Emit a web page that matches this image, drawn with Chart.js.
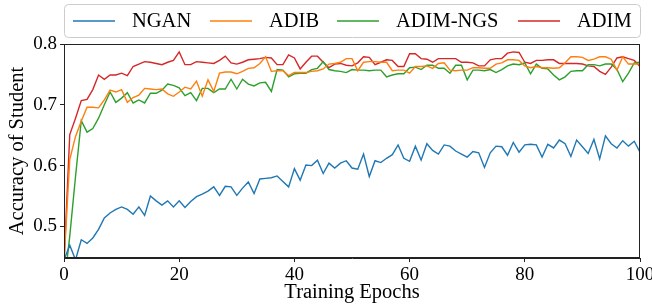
<!DOCTYPE html>
<html>
<head>
<meta charset="utf-8">
<script src="https://cdn.jsdelivr.net/npm/chart.js@4/dist/chart.umd.min.js"></script>
<style>
  html, body { margin: 0; padding: 0; background: #fff; }
  #wrap { width: 652px; height: 305px; position: relative; }
</style>
</head>
<body>
<div id="wrap"><canvas id="plot" width="652" height="305"></canvas></div>
<script>
// data

const epochs = [0,1,2,3,4,5,6,7,8,9,10,11,12,13,14,15,16,17,18,19,20,21,22,23,24,25,26,27,28,29,30,
  31,32,33,34,35,36,37,38,39,40,41,42,43,44,45,46,47,48,49,50,51,52,53,54,55,56,57,58,59,60,
  61,62,63,64,65,66,67,68,69,70,71,72,73,74,75,76,77,78,79,80,81,82,83,84,85,86,87,88,89,90,
  91,92,93,94,95,96,97,98,99,100]

const ngan = [0.445,0.469,0.445,0.478,0.472,0.481,0.495,0.514,0.522,0.528,
  0.532,0.528,0.520,0.532,0.518,0.550,0.542,0.535,0.542,0.532,
  0.542,0.531,0.541,0.549,0.553,0.558,0.565,0.551,0.566,0.565,
  0.551,0.563,0.573,0.554,0.578,0.579,0.580,0.583,0.574,0.565,
  0.595,0.576,0.601,0.600,0.609,0.587,0.604,0.596,0.604,0.608,
  0.596,0.594,0.619,0.582,0.608,0.605,0.612,0.618,0.634,0.612,
  0.607,0.632,0.609,0.636,0.625,0.619,0.634,0.632,0.624,0.619,
  0.614,0.623,0.621,0.597,0.621,0.632,0.631,0.617,0.638,0.622,
  0.634,0.635,0.634,0.614,0.635,0.629,0.642,0.636,0.615,0.642,
  0.631,0.620,0.643,0.611,0.649,0.636,0.629,0.641,0.632,0.640,0.622]

const adib = [0.44,0.610,0.648,0.673,0.696,0.696,0.695,0.708,0.724,0.721,
  0.725,0.704,0.712,0.716,0.727,0.726,0.725,0.726,0.718,0.714,
  0.721,0.729,0.726,0.739,0.714,0.741,0.722,0.752,0.754,0.754,
  0.751,0.755,0.760,0.761,0.768,0.779,0.755,0.756,0.756,0.748,
  0.753,0.753,0.753,0.755,0.756,0.759,0.767,0.768,0.770,0.776,
  0.776,0.756,0.770,0.771,0.771,0.770,0.770,0.756,0.757,0.757,
  0.752,0.763,0.763,0.764,0.760,0.768,0.769,0.757,0.756,0.757,
  0.757,0.761,0.761,0.760,0.760,0.767,0.769,0.774,0.774,0.773,
  0.764,0.761,0.763,0.761,0.761,0.760,0.761,0.769,0.779,0.779,
  0.778,0.773,0.775,0.779,0.779,0.775,0.757,0.779,0.767,0.767,0.767]

const adimNgs = [0.40,0.484,0.582,0.674,0.655,0.661,0.678,0.700,0.721,0.704,
  0.711,0.720,0.703,0.708,0.703,0.719,0.719,0.724,0.734,0.732,
  0.728,0.715,0.720,0.707,0.727,0.727,0.720,0.726,0.726,0.742,
  0.726,0.742,0.734,0.731,0.736,0.737,0.722,0.758,0.757,0.746,
  0.751,0.752,0.752,0.758,0.760,0.771,0.758,0.756,0.755,0.753,
  0.758,0.757,0.757,0.756,0.757,0.757,0.746,0.749,0.751,0.751,
  0.761,0.762,0.758,0.765,0.765,0.760,0.760,0.752,0.765,0.765,
  0.741,0.757,0.757,0.756,0.758,0.753,0.758,0.764,0.767,0.766,
  0.769,0.751,0.767,0.760,0.759,0.749,0.741,0.746,0.755,0.756,
  0.756,0.766,0.766,0.764,0.767,0.767,0.758,0.738,0.752,0.769,0.770]

const adim = [0.44,0.651,0.678,0.707,0.709,0.725,0.749,0.742,0.749,0.749,
  0.752,0.748,0.763,0.767,0.771,0.770,0.768,0.766,0.770,0.773,
  0.787,0.766,0.766,0.771,0.770,0.769,0.768,0.773,0.780,0.769,
  0.767,0.770,0.774,0.775,0.776,0.778,0.777,0.766,0.766,0.782,
  0.777,0.759,0.770,0.780,0.780,0.770,0.761,0.767,0.768,0.765,
  0.764,0.769,0.779,0.778,0.766,0.770,0.774,0.773,0.763,0.763,
  0.784,0.784,0.776,0.775,0.770,0.776,0.776,0.776,0.776,0.770,
  0.770,0.769,0.764,0.764,0.774,0.776,0.776,0.785,0.787,0.786,
  0.770,0.768,0.773,0.773,0.774,0.774,0.768,0.768,0.768,0.768,
  0.767,0.764,0.763,0.755,0.750,0.762,0.777,0.779,0.776,0.773,0.763]

const seriesNames = ['NGAN', 'ADIB', 'ADIM-NGS', 'ADIM']
const seriesColors = ['#1f77b4', '#ff7f0e', '#2ca02c', '#d62728']
const yTicks = [0.5, 0.6, 0.7, 0.8]

const serif = "'Liberation Serif', 'Times New Roman', serif"

// frame round the plot + legend box on top (matplotlib look)
const framePlugin = {
  id: 'frame',
  afterDraw(chart) {
    const ctx = chart.ctx
    const a = chart.chartArea
    ctx.save()
    ctx.strokeStyle = '#222'
    ctx.lineWidth = 1
    ctx.strokeRect(a.left + 0.5, a.top + 0.5, a.right - a.left - 1, a.bottom - a.top - 1)
    ctx.restore()

    // legend
    ctx.save()
    ctx.beginPath()
    ctx.roundRect(64.5, 4.5, 576, 33, 4)
    ctx.fillStyle = 'rgba(255,255,255,0.9)'
    ctx.fill()
    ctx.strokeStyle = '#cccccc'
    ctx.lineWidth = 1
    ctx.stroke()
    const lineX = [73, 210, 337, 518]
    ctx.font = '20.5px ' + serif
    ctx.textBaseline = 'middle'
    ctx.fillStyle = '#000'
    seriesNames.forEach((name, i) => {
      ctx.beginPath()
      ctx.moveTo(lineX[i], 21)
      ctx.lineTo(lineX[i] + 42, 21)
      ctx.strokeStyle = seriesColors[i]
      ctx.lineWidth = 1.5
      ctx.stroke()
      ctx.fillText(name, lineX[i] + 59, 22)
    })
    ctx.restore()
  }
}

const allSeries = [ngan, adib, adimNgs, adim]

const chart = new Chart(
  document.getElementById('plot'),
  {
    type: 'line',
    data: {
      labels: epochs,
      datasets: allSeries.map((vals, i) => ({
        label: seriesNames[i],
        data: vals,
        borderColor: seriesColors[i],
        backgroundColor: seriesColors[i],
        borderWidth: 1.4,
        pointRadius: 0,
        tension: 0,
        fill: false
      }))
    },
    options: {
      responsive: false,
      animation: false,
      events: [],
      layout: { padding: { top: 44, right: 12, left: 0, bottom: 0 } },
      plugins: {
        legend: { display: false },
        tooltip: { enabled: false }
      },
      scales: {
        x: {
          type: 'linear',
          min: 0,
          max: 100,
          ticks: {
            stepSize: 20,
            color: '#000',
            font: { family: serif, size: 19 },
            padding: 2,
            maxRotation: 0
          },
          grid: { display: true, drawOnChartArea: false, tickLength: 4, color: '#222' },
          border: { display: true, color: '#222' },
          title: {
            display: true,
            text: 'Training Epochs',
            color: '#000',
            font: { family: serif, size: 20.5 },
            padding: 0
          },
          afterFit(scale) {
            scale.height = 47
            scale.paddingLeft = 0
            scale.paddingRight = 0
          }
        },
        y: {
          min: 0.448,
          max: 0.8,
          afterBuildTicks(scale) {
            scale.ticks = yTicks.map(v => ({ value: v }))
          },
          ticks: {
            color: '#000',
            font: { family: serif, size: 19 },
            padding: 3,
            callback: v => v.toFixed(1)
          },
          grid: { display: true, drawOnChartArea: false, tickLength: 4, color: '#222' },
          border: { display: true, color: '#222' },
          title: {
            display: true,
            text: 'Accuracy of Student',
            color: '#000',
            font: { family: serif, size: 20.5 },
            padding: { top: 5, bottom: 0 }
          },
          afterFit(scale) {
            scale.width = 64
            scale.paddingTop = 0
            scale.paddingBottom = 0
          }
        }
      }
    },
    plugins: [framePlugin]
  }
)
</script>
</body>
</html>
